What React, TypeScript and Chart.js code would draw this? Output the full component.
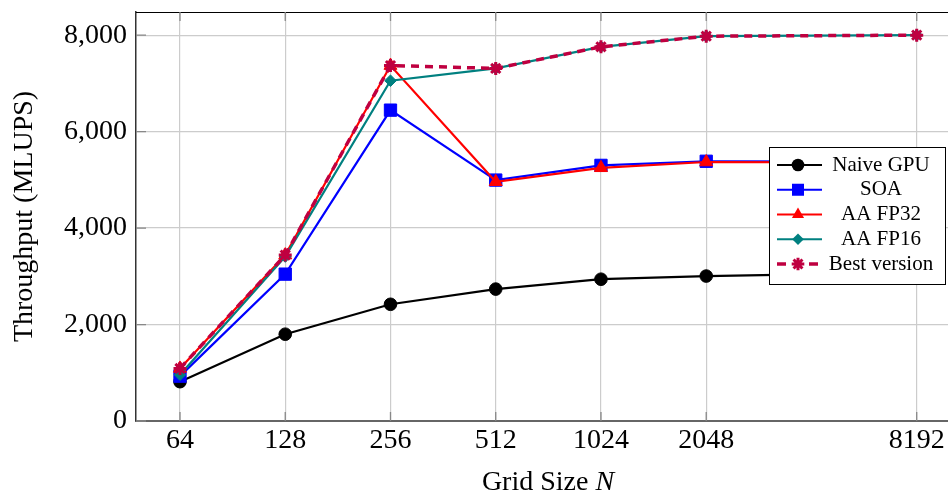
import React, { useEffect, useRef } from 'react';
import { Chart, registerables } from 'chart.js';

Chart.register(...registerables);

// ---- data ----
const gridSizes = [64, 128, 256, 512, 1024, 2048, 8192];
const naiveGpu = [815, 1800, 2420, 2735, 2940, 3005, 3080];
const soa = [930, 3045, 6445, 4995, 5300, 5385, 5380];
const aaFp32 = [1090, 3440, 7370, 4960, 5250, 5370, 5360];
const aaFp16 = [960, 3410, 7055, 7310, 7758, 7978, 8000];
const bestVersion = [1090, 3440, 7370, 7310, 7758, 7978, 8000];
const seriesLabels = ['Naive GPU', 'SOA', 'AA FP32', 'AA FP16', 'Best version'];
const xTicks = [64, 128, 256, 512, 1024, 2048, 8192];
const yTicks = [0, 2000, 4000, 6000, 8000];
const xTitle = 'Grid Size ';
const xTitleItalic = 'N';
const yTitle = 'Throughput (MLUPS)';

// ---- styles ----
const seriesValues = [naiveGpu, soa, aaFp32, aaFp16, bestVersion];
const seriesStyles = [
  { color: '#000000', point: 'circle', radius: 6.3, width: 2.2, dash: [] as number[] },
  { color: '#0000ff', point: 'rect', radius: 8.7, width: 2.2, dash: [] as number[] },
  { color: '#ff0000', point: 'triangle', radius: 7.5, width: 2.2, dash: [] as number[] },
  { color: '#008080', point: 'rectRot', radius: 5.8, width: 2.2, dash: [] as number[] },
  { color: '#bf0040', point: 'star', radius: 6.5, width: 3.5, dash: [8, 6] },
];

const FONT = '"Liberation Serif", "Times New Roman", serif';

function drawMarker(ctx: CanvasRenderingContext2D, kind: string, x: number, y: number, r: number, color: string) {
  ctx.save();
  ctx.fillStyle = color;
  ctx.strokeStyle = color;
  ctx.setLineDash([]);
  ctx.beginPath();
  if (kind === 'circle') {
    ctx.arc(x, y, r, 0, Math.PI * 2);
    ctx.fill();
  } else if (kind === 'rect') {
    const s = Math.SQRT1_2 * r;
    ctx.rect(x - s, y - s, 2 * s, 2 * s);
    ctx.fill();
  } else if (kind === 'triangle') {
    for (let i = 0; i < 3; i++) {
      const a = (i * 2 * Math.PI) / 3;
      const px = x + Math.sin(a) * r;
      const py = y - Math.cos(a) * r;
      if (i === 0) ctx.moveTo(px, py); else ctx.lineTo(px, py);
    }
    ctx.closePath();
    ctx.fill();
  } else if (kind === 'rectRot') {
    ctx.moveTo(x, y - r);
    ctx.lineTo(x + r, y);
    ctx.lineTo(x, y + r);
    ctx.lineTo(x - r, y);
    ctx.closePath();
    ctx.fill();
  } else if (kind === 'star') {
    ctx.lineWidth = 3;
    for (let i = 0; i < 4; i++) {
      const a = (i * Math.PI) / 4;
      ctx.moveTo(x - Math.cos(a) * r, y - Math.sin(a) * r);
      ctx.lineTo(x + Math.cos(a) * r, y + Math.sin(a) * r);
    }
    ctx.stroke();
  }
  ctx.restore();
}

const decorations = {
  id: 'decorations',
  beforeDatasetsDraw(chart: any) {
    const { ctx, chartArea: a, scales } = chart;
    ctx.save();
    ctx.strokeStyle = '#000';
    ctx.lineWidth = 1.2;
    ctx.beginPath();
    ctx.moveTo(a.left, a.top + 0.5);
    ctx.lineTo(a.right, a.top + 0.5);
    ctx.stroke();
    ctx.strokeStyle = '#888';
    ctx.lineWidth = 1.3;
    ctx.beginPath();
    xTicks.forEach((v) => {
      const px = scales.x.getPixelForValue(v);
      ctx.moveTo(px, a.top);
      ctx.lineTo(px, a.top + 9);
      ctx.moveTo(px, a.bottom - 9);
      ctx.lineTo(px, a.bottom);
    });
    yTicks.forEach((v) => {
      const py = scales.y.getPixelForValue(v);
      ctx.moveTo(a.left, py);
      ctx.lineTo(a.left + 10, py);
    });
    ctx.stroke();
    ctx.restore();
  },
  afterDraw(chart: any) {
    const { ctx } = chart;
    ctx.save();
    // x-axis title with italic N
    ctx.fillStyle = '#000';
    ctx.textBaseline = 'alphabetic';
    ctx.textAlign = 'left';
    ctx.font = `28px ${FONT}`;
    const w1 = ctx.measureText(xTitle).width;
    ctx.font = `italic 28px ${FONT}`;
    const w2 = ctx.measureText(xTitleItalic).width;
    const cx = 548;
    const startX = cx - (w1 + w2) / 2;
    ctx.font = `28px ${FONT}`;
    ctx.fillText(xTitle, startX, 490);
    ctx.font = `italic 28px ${FONT}`;
    ctx.fillText(xTitleItalic, startX + w1, 490);

    // legend box
    const bx = 769, by = 147, bw = 176, bh = 137;
    ctx.fillStyle = '#fff';
    ctx.fillRect(bx, by, bw, bh);
    ctx.strokeStyle = '#000';
    ctx.lineWidth = 1;
    ctx.strokeRect(bx + 0.5, by + 0.5, bw, bh);
    seriesLabels.forEach((label, i) => {
      const st = seriesStyles[i];
      const ry = 165 + i * 24.75;
      ctx.strokeStyle = st.color;
      ctx.lineWidth = st.width;
      ctx.beginPath();
      if (st.dash.length) {
        ctx.moveTo(777, ry); ctx.lineTo(786, ry);
        ctx.moveTo(809, ry); ctx.lineTo(818, ry);
      } else {
        ctx.moveTo(777, ry); ctx.lineTo(822, ry);
      }
      ctx.stroke();
      drawMarker(ctx, st.point, 798, ry, st.point === 'rect' ? 8.5 : st.point === 'triangle' ? 7 : st.point === 'rectRot' ? 5.8 : 6.3, st.color);
      ctx.fillStyle = '#000';
      ctx.font = `21px ${FONT}`;
      ctx.textAlign = 'center';
      ctx.textBaseline = 'middle';
      ctx.fillText(label, 881, ry);
    });
    ctx.restore();
  },
};

export default function App() {
  const ref = useRef<HTMLCanvasElement | null>(null);
  useEffect(() => {
    document.body.style.margin = '0';
    const canvas = ref.current;
    if (!canvas) return;
    Chart.defaults.font.family = FONT;
    Chart.defaults.color = '#000';
    const datasets = seriesLabels.map((label, i) => {
      const st = seriesStyles[i];
      return {
        label,
        data: gridSizes.map((x, j) => ({ x, y: seriesValues[i][j] })),
        borderColor: st.color,
        backgroundColor: st.color,
        borderWidth: st.width,
        borderDash: st.dash,
        pointStyle: st.point,
        pointRadius: st.radius,
        pointHoverRadius: st.radius,
        pointBackgroundColor: st.color,
        pointBorderColor: st.color,
        pointBorderWidth: st.point === 'star' ? 3 : 1,
        tension: 0,
        fill: false,
        order: seriesLabels.length - 1 - i,
      };
    });
    const chart = new Chart(canvas, {
      type: 'line',
      data: { datasets } as any,
      plugins: [decorations],
      options: {
        animation: false,
        responsive: false,
        maintainAspectRatio: false,
        layout: { autoPadding: false, padding: { top: 12, left: 0, right: 0, bottom: 0 } },
        plugins: { legend: { display: false }, tooltip: { enabled: false } },
        scales: {
          x: {
            type: 'logarithmic',
            min: 47.9,
            max: 10067,
            bounds: 'data',
            afterBuildTicks: (s: any) => { s.ticks = xTicks.map((v) => ({ value: v })); },
            afterFit: (s: any) => { s.height = 74; s.paddingLeft = 0; s.paddingRight = 0; },
            grid: { color: '#cccccc', lineWidth: 1.2, drawTicks: false },
            border: { color: '#666666', width: 2 },
            ticks: {
              callback: (v: any) => String(v),
              padding: 3,
              font: { size: 28, family: FONT },
              color: '#000',
              autoSkip: false,
              maxRotation: 0,
            },
          },
          y: {
            type: 'linear',
            min: 0,
            max: 8480,
            afterBuildTicks: (s: any) => { s.ticks = yTicks.map((v) => ({ value: v })); },
            afterFit: (s: any) => { s.width = 136; s.paddingTop = 0; s.paddingBottom = 0; },
            grid: { color: '#cccccc', lineWidth: 1.2, drawTicks: false },
            border: { color: '#333333', width: 1.5 },
            ticks: {
              callback: (v: any) => Number(v).toLocaleString('en-US'),
              padding: 9,
              font: { size: 28, family: FONT },
              color: '#000',
            },
            title: {
              display: true,
              text: yTitle,
              font: { size: 28, family: FONT },
              color: '#000',
              padding: { top: 8, bottom: 0 },
            },
          },
        },
      } as any,
    });
    return () => chart.destroy();
  }, []);
  return (
    <div style={{ width: 948, height: 495 }}>
      <canvas ref={ref} width={948} height={495} style={{ display: 'block' }} />
    </div>
  );
}
